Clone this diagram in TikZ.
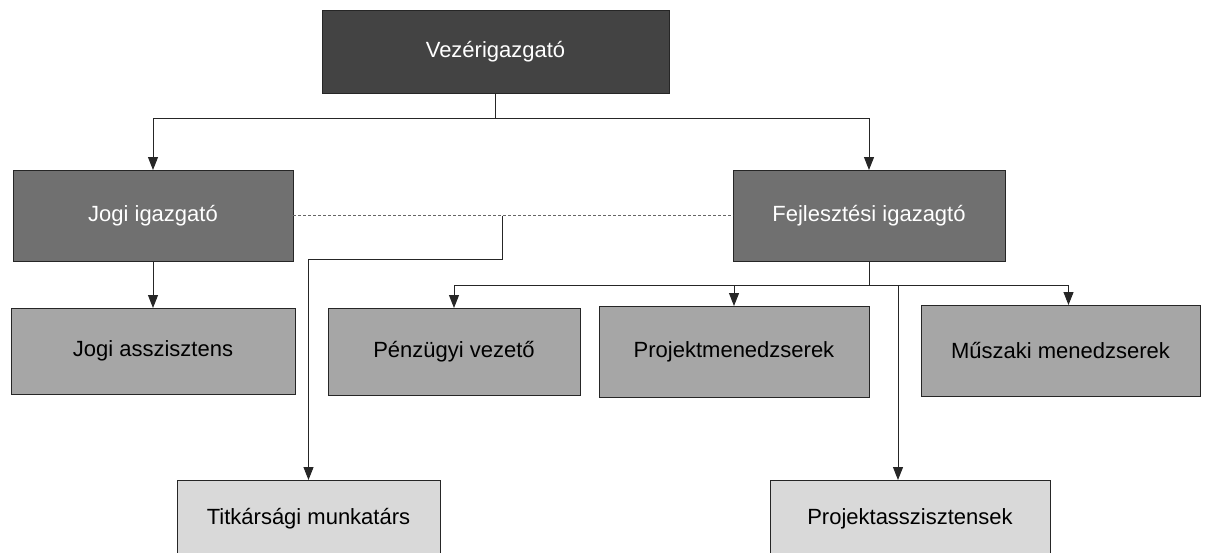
\documentclass[tikz,border=0pt]{standalone}
\usepackage{fontspec}
\setmainfont{Liberation Sans}
\usetikzlibrary{arrows.meta}
\definecolor{topfill}{HTML}{434343}
\definecolor{midfill}{HTML}{707070}
\definecolor{lowfill}{HTML}{A6A6A6}
\definecolor{basefill}{HTML}{D9D9D9}
\begin{document}
\begin{tikzpicture}[x=1pt, y=-1pt, inner sep=0, outer sep=0,
  box/.style={rectangle, draw=black!85, line width=1pt, align=center,
    font=\fontsize{22}{26}\selectfont},
  link/.style={draw=black!85, line width=1pt, -{Triangle[width=10pt,length=13pt]}},
  assoc/.style={draw=black!60, line width=1pt, dash pattern=on 3pt off 2pt}]
  \useasboundingbox (0,0) rectangle (1205,552);

  \node[box, fill=topfill, text=white, minimum width=347, minimum height=83] (ceo) at (495.5, 51.5) {Vezérigazgató};

  \node[box, fill=midfill, text=white, minimum width=280, minimum height=91] (jogi) at (153, 215.5) {Jogi igazgató};
  \node[box, fill=midfill, text=white, minimum width=272, minimum height=91] (fejl) at (869, 215.5) {Fejlesztési igazagtó};

  \node[box, fill=lowfill, minimum width=284, minimum height=86] (jasz) at (153, 351) {Jogi asszisztens};
  \node[box, fill=lowfill, minimum width=252, minimum height=87] (penz) at (454, 351.5) {Pénzügyi vezető};
  \node[box, fill=lowfill, minimum width=270, minimum height=91] (proj) at (734, 351.5) {Projektmenedzserek};
  \node[box, fill=lowfill, minimum width=279, minimum height=91] (musz) at (1060.5, 350.5) {Műszaki menedzserek};

  \node[box, fill=basefill, minimum width=263, minimum height=78] (titk) at (308.5, 519) {Titkársági munkatárs};
  \node[box, fill=basefill, minimum width=280, minimum height=78] (pasz) at (910, 519) {Projektasszisztensek};

  % top level split
  \coordinate (ceosplit) at ([yshift=-25pt]ceo.south);
  \draw[link] (ceo.south) -- (ceosplit) -| (jogi.north);
  \draw[link] (ceosplit) -| (fejl.north);

  \draw[link] (jogi.south) -- (jasz.north);

  % dotted link between the two directors
  \draw[assoc] (jogi.east) -- (fejl.west);
  \coordinate (tap) at ([xshift=209pt]jogi.east);
  \coordinate (tapbend) at ([yshift=-43.5pt]tap);
  \draw[link] (tap) -- (tapbend) -| (titk.north);

  % development branch
  \coordinate (fejlsplit) at ([yshift=-24pt]fejl.south);
  \draw[draw=black!85, line width=1pt] (fejl.south) -- (fejlsplit);
  \draw[link] (fejlsplit) -| (penz.north);
  \draw[link] (fejlsplit) -| (proj.north);
  \draw[link] (fejlsplit) -| ([xshift=8pt]musz.north);
  \draw[link] (fejlsplit) -| ([xshift=-12pt]pasz.north);
\end{tikzpicture}
\end{document}
